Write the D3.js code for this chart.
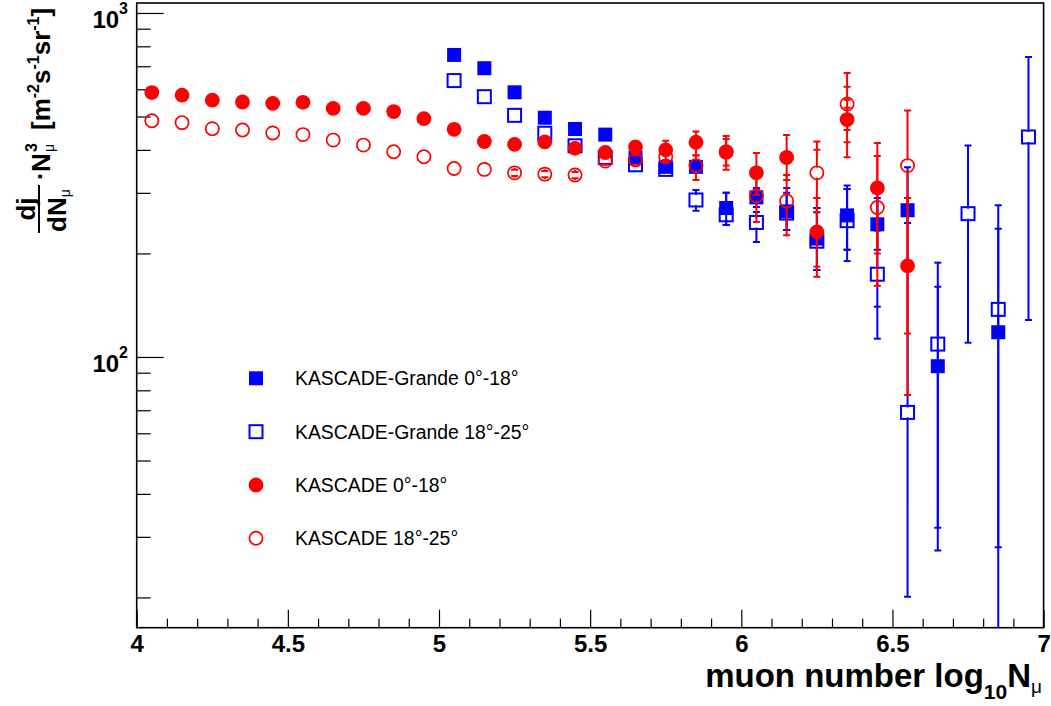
<!DOCTYPE html>
<html><head><meta charset="utf-8">
<script src="https://cdn.jsdelivr.net/npm/d3@7"></script>
<style>body{margin:0;background:#fff} svg{display:block} text{font-family:"Liberation Sans",Arial,Helvetica,sans-serif}</style>
</head><body>
<svg id="c" width="1051" height="706"></svg>
<script>
// ---------------- data ----------------
const xKascade = [4.05,4.15,4.25,4.35,4.45,4.55,4.65,4.75,4.85,4.95,5.05,5.15,5.25,5.35,5.45,5.55,5.65,5.75,5.85,5.95,6.05,6.15,6.25,6.35,6.45,6.55];
const kascade0_18   = [587,577,558,551,546,550,528,528,517,493,459,423,415,422,404,393,408,400,421,395,343,380,231,490,310,184];
const kascade0_18Lo = [null,null,null,null,null,null,null,null,null,null,null,null,null,null,null,null,null,374,386,350,296,327,171,381,200,77.5];
const kascade0_18Hi = [null,null,null,null,null,null,null,null,null,null,null,null,null,null,null,null,null,425,452,439,392,442,290,559,419,290];
const kascade0_18InLo = [null,null,null,null,null,null,null,null,null,null,null,null,null,null,null,null,null,null,null,null,null,null,183,421,null,null];
const kascade0_18InHi = [null,null,null,null,null,null,null,null,null,null,null,null,null,null,null,null,null,null,null,null,null,null,263,530,null,null];

const kascade18_25   = [486,480,461,457,448,443,427,413,395,382,353,351,343,340,338,371,374,382,360,394,294,284,343,544,272,360];
const kascade18_25Lo = [null,null,null,null,null,null,null,null,null,null,null,null,336,333,331,362,362,370,327,360,247,226,264,457,161,117];
const kascade18_25Hi = [null,null,null,null,null,null,null,null,null,null,null,null,350,347,345,380,386,395,386,430,338,338,423,669,384,521];
const kascade18_25InLo = [null,null,null,null,null,null,null,null,null,null,null,null,null,null,null,null,null,null,null,null,null,null,290,480,null,null];
const kascade18_25InHi = [null,null,null,null,null,null,null,null,null,null,null,null,null,null,null,null,null,null,null,null,null,null,400,610,null,null];

const xGrande = [5.05,5.15,5.25,5.35,5.45,5.55,5.65,5.75,5.85,5.95,6.05,6.15,6.25,6.35,6.45,6.55,6.65,6.75,6.85,6.95];
const grande0_18   = [755,691,588,496,460,443,379,357,357,271,291,265,221,258,243,267,94,null,118,null];
const grande0_18Lo = [null,null,null,null,null,null,null,null,null,242,273,234,179,190,205,245,27.4,null,10,null];
const grande0_18Hi = [null,null,null,null,null,null,null,null,null,300,310,310,271,315,290,290,160,null,236,null];
const grande0_18InLo = [null,null,null,null,null,null,null,null,null,null,null,null,null,205,null,null,null,null,null,null];
const grande0_18InHi = [null,null,null,null,null,null,null,null,null,null,null,null,null,308,null,null,null,null,null,null];

const grande18_25   = [636,571,504,447,411,380,362,351,286,259,246,262,217,249,174,69,109,261,137.5,436];
const grande18_25Lo = [null,null,null,null,null,null,null,null,266,242,216,234,179,205,113,20.1,31.9,110,28,128];
const grande18_25Hi = [null,null,null,null,null,null,null,null,306,300,264,300,271,308,312,356,188,412,276,745];
const grande18_25InLo = [null,null,null,null,null,null,null,null,null,null,null,null,null,null,140,null,null,null,null,null];
const grande18_25InHi = [null,null,null,null,null,null,null,null,null,null,null,null,null,null,233,null,null,null,null,null];

const xMajor = [4,4.5,5,5.5,6,6.5,7];
const xMinor = [4.1,4.2,4.3,4.4,4.6,4.7,4.8,4.9,5.1,5.2,5.3,5.4,5.6,5.7,5.8,5.9,6.1,6.2,6.3,6.4,6.6,6.7,6.8,6.9];
const xTickLabels = ["4","4.5","5","5.5","6","6.5","7"];
const yMajor = [100,1000];
const yMajorExp = ["2","3"];
const yMinor = [20,30,40,50,60,70,80,90,200,300,400,500,600,700,800,900];

const legendLabels = ["KASCADE-Grande 0°-18°","KASCADE-Grande 18°-25°","KASCADE 0°-18°","KASCADE 18°-25°"];

// ---------------- chart ----------------
const svg = d3.select("#c");
const L = 136.7, R = 1043.6, T = 3, B = 627.7;
const x = d3.scaleLinear().domain([4,7]).range([L,R]);
const y = d3.scaleLog().domain([16.33,1069]).range([B,T]);
const BLUE = "#0000ff", RED = "#ff0000";

svg.append("defs").append("clipPath").attr("id","clip")
  .append("rect").attr("x",L).attr("y",T).attr("width",R-L).attr("height",B-T);

// axes ticks
const gx = svg.append("g").attr("transform",`translate(0,${B})`);
gx.call(d3.axisBottom(x).tickValues(xMinor).tickSize(-9).tickSizeOuter(0).tickFormat(""));
const gx2 = svg.append("g").attr("transform",`translate(0,${B})`);
gx2.call(d3.axisBottom(x).tickValues(xMajor).tickSize(-18).tickSizeOuter(0).tickPadding(7)
   .tickFormat((d,i)=>xTickLabels[i]));
gx2.selectAll("text").attr("font-size",24).attr("font-weight","bold").attr("fill","#000")
   .style("font-family","'Liberation Sans',Arial,sans-serif");
const gy = svg.append("g").attr("transform",`translate(${L},0)`);
gy.call(d3.axisLeft(y).tickValues(yMinor).tickSize(-14).tickSizeOuter(0).tickFormat(""));
const gy2 = svg.append("g").attr("transform",`translate(${L},0)`);
gy2.call(d3.axisLeft(y).tickValues(yMajor).tickSize(-27).tickSizeOuter(0).tickFormat(""));
svg.selectAll(".domain").remove();
svg.selectAll(".tick line").attr("stroke","#000").attr("stroke-width",1.2);

yMajor.forEach((v,i)=>{
  const t = svg.append("text").attr("x",128).attr("y",y(v)+15).attr("text-anchor","end")
    .attr("font-size",24).attr("font-weight","bold").text("10");
  t.append("tspan").attr("dy",-14).attr("font-size",16).text(yMajorExp[i]);
});

// frame
svg.append("rect").attr("x",L).attr("y",T).attr("width",R-L).attr("height",B-T)
  .attr("fill","none").attr("stroke","#000").attr("stroke-width",1.6);

// data
const plot = svg.append("g").attr("clip-path","url(#clip)");

function errors(xs, vals, lo, hi, inLo, inHi, color){
  const g = plot.append("g").attr("stroke",color).attr("stroke-width",2).attr("fill","none");
  xs.forEach((xv,i)=>{
    if (vals[i]==null) return;
    const cx = x(xv), cy = y(vals[i]), gap = 5, cw = 3.5;
    if (hi[i]!=null){ const yh=y(hi[i]);
      g.append("line").attr("x1",cx).attr("x2",cx).attr("y1",yh).attr("y2",cy-gap);
      g.append("line").attr("x1",cx-cw).attr("x2",cx+cw).attr("y1",yh).attr("y2",yh); }
    if (lo[i]!=null){ const yl=y(lo[i]);
      g.append("line").attr("x1",cx).attr("x2",cx).attr("y1",cy+gap).attr("y2",yl);
      g.append("line").attr("x1",cx-cw).attr("x2",cx+cw).attr("y1",yl).attr("y2",yl); }
    [inLo[i],inHi[i]].forEach(v=>{ if(v!=null){ const yy=y(v);
      g.append("line").attr("x1",cx-cw).attr("x2",cx+cw).attr("y1",yy).attr("y2",yy);} });
  });
}
function square(g, cx, cy, filled, color){
  if (filled) g.append("rect").attr("x",cx-7).attr("y",cy-7).attr("width",14).attr("height",14).attr("fill",color);
  else g.append("rect").attr("x",cx-6.5).attr("y",cy-6.5).attr("width",13).attr("height",13)
        .attr("fill","none").attr("stroke",color).attr("stroke-width",2);
}
function circle(g, cx, cy, filled, color){
  if (filled) g.append("circle").attr("cx",cx).attr("cy",cy).attr("r",7.4).attr("fill",color);
  else g.append("circle").attr("cx",cx).attr("cy",cy).attr("r",6.6).attr("fill","none")
        .attr("stroke",color).attr("stroke-width",1.7);
}
function markers(xs, vals, fn, filled, color){
  const g = plot.append("g");
  xs.forEach((xv,i)=>{ if(vals[i]!=null) fn(g, x(xv), y(vals[i]), filled, color); });
}

errors(xGrande, grande18_25, grande18_25Lo, grande18_25Hi, grande18_25InLo, grande18_25InHi, BLUE);
markers(xGrande, grande18_25, square, false, BLUE);
errors(xGrande, grande0_18, grande0_18Lo, grande0_18Hi, grande0_18InLo, grande0_18InHi, BLUE);
markers(xGrande, grande0_18, square, true, BLUE);
errors(xKascade, kascade18_25, kascade18_25Lo, kascade18_25Hi, kascade18_25InLo, kascade18_25InHi, RED);
markers(xKascade, kascade18_25, circle, false, RED);
errors(xKascade, kascade0_18, kascade0_18Lo, kascade0_18Hi, kascade0_18InLo, kascade0_18InHi, RED);
markers(xKascade, kascade0_18, circle, true, RED);

// legend
const legY = [378.3, 431.7, 485, 538.3];
const legFns = [[square,true,BLUE],[square,false,BLUE],[circle,true,RED],[circle,false,RED]];
const lg = svg.append("g");
legendLabels.forEach((lab,i)=>{
  const [fn,f,c] = legFns[i];
  fn(lg, 256, legY[i], f, c);
  lg.append("text").attr("x",295).attr("y",legY[i]+7).attr("font-size",19.4).attr("fill","#000").text(lab);
});

// x title
const xt = svg.append("text").attr("x",1042).attr("y",687).attr("text-anchor","end")
  .attr("font-size",33).attr("font-weight","bold").text("muon number log");
xt.append("tspan").attr("font-size",21).attr("dy",12).text("10");
xt.append("tspan").attr("dy",-12).text("N");
xt.append("tspan").attr("font-size",19).attr("font-weight","normal").attr("dy",6).text("μ");

// y title (rotated)
const yt = svg.append("g").attr("transform","translate(50,233) rotate(-90)")
  .attr("font-weight","bold").attr("fill","#000");
yt.append("text").attr("x",1).attr("y",16).attr("font-size",26).text("dN")
  .append("tspan").attr("font-size",14).attr("font-weight","normal").attr("dy",4).text("μ");
yt.append("text").attr("x",24).attr("y",-15).attr("text-anchor","middle").attr("font-size",26).text("dj");
yt.append("line").attr("x1",0).attr("x2",48).attr("y1",-11).attr("y2",-11).attr("stroke","#000").attr("stroke-width",2);
yt.append("text").attr("x",53).attr("y",-1).attr("font-size",25).text("·");
yt.append("text").attr("x",61).attr("y",0).attr("font-size",26).text("N");
yt.append("text").attr("x",81).attr("y",-13).attr("font-size",16).text("3");
yt.append("text").attr("x",81).attr("y",4).attr("font-size",14).attr("font-weight","normal").text("μ");
const br = yt.append("text").attr("x",103).attr("y",0).attr("font-size",26).text("[m");
br.append("tspan").attr("font-size",16).attr("dy",-11).text("-2");
br.append("tspan").attr("dy",11).text("s");
br.append("tspan").attr("font-size",16).attr("dy",-11).text("-1");
br.append("tspan").attr("dy",11).text("sr");
br.append("tspan").attr("font-size",16).attr("dy",-11).text("-1");
br.append("tspan").attr("dy",11).text("]");
</script>
</body></html>
